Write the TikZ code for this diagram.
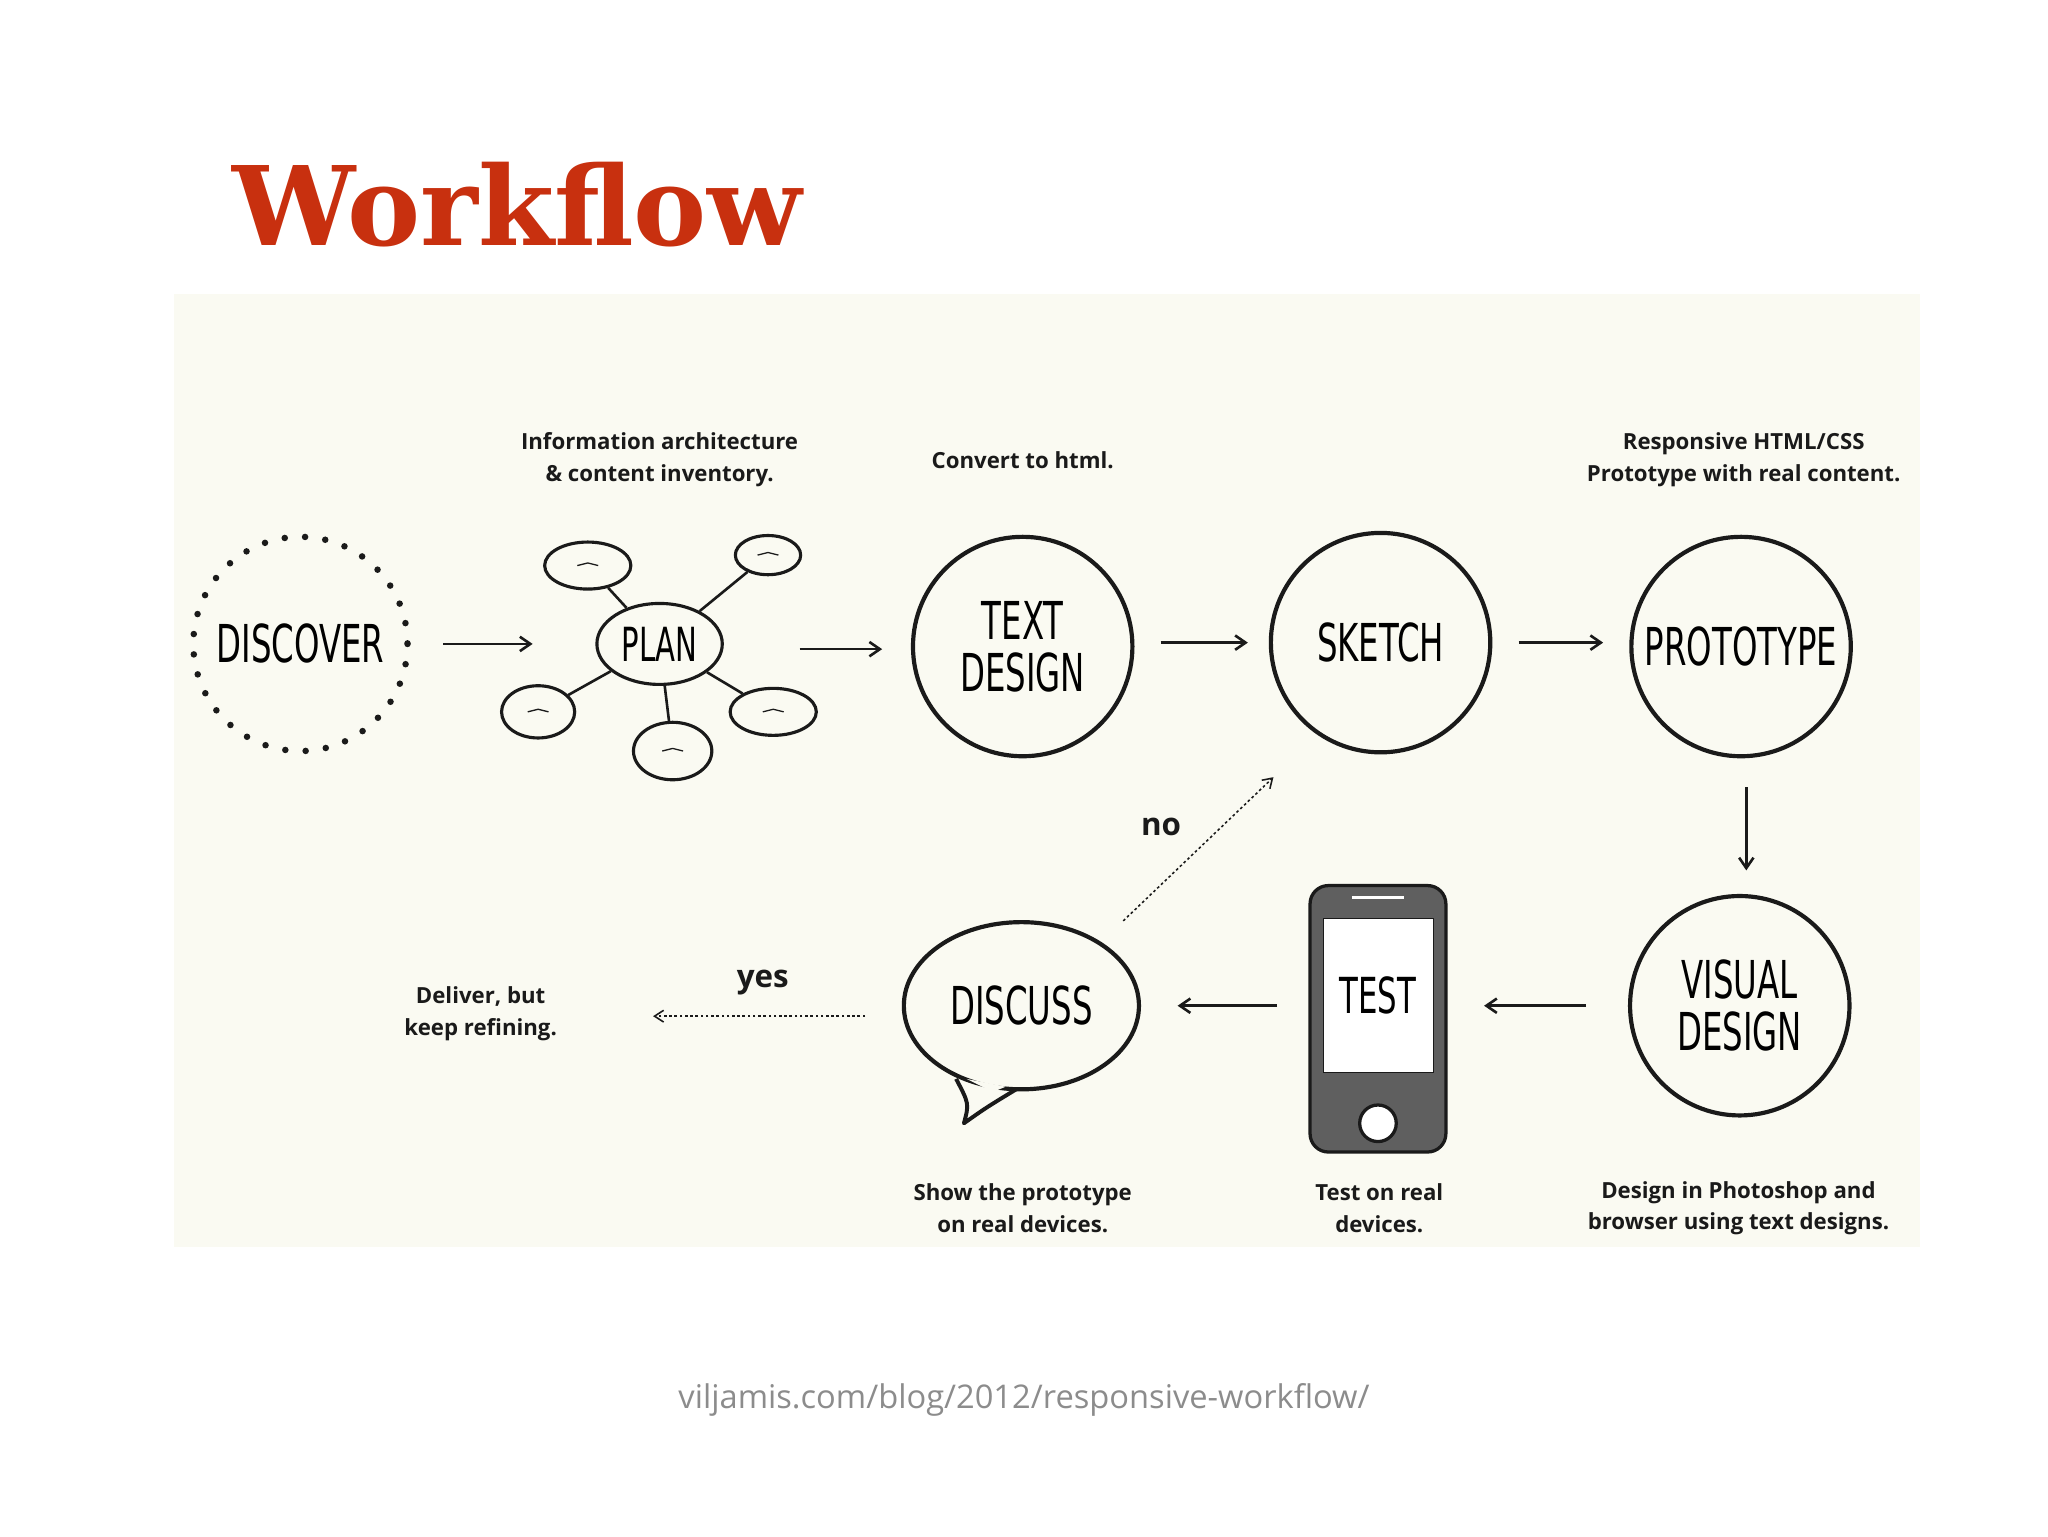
\documentclass[tikz,border=0pt]{standalone}
\usepackage{fontspec}
\setmainfont{Open Sans}
\newfontfamily\titlef{DejaVu Serif}
\newfontfamily\cond[FakeStretch=0.62]{DejaVu Sans}
\usetikzlibrary{arrows.meta,shapes.geometric}
\definecolor{tred}{HTML}{C8300F}
\definecolor{cream}{HTML}{FAFAF2}
\definecolor{ink}{HTML}{1A1A1A}
\tikzset{
 big/.style={circle,draw=ink,line width=3.2pt,minimum size=168pt,inner sep=0pt,align=center,font=\cond\fontsize{40}{40}\selectfont},
 lab/.style={align=center,font=\fontsize{17}{24}\selectfont\bfseries,text=ink},
 arr/.style={-{Straight Barb[length=8pt,width=11pt]},line width=2pt,draw=ink},
 darr/.style={-{Straight Barb[length=7pt,width=9pt]},line width=1.2pt,draw=ink,dash pattern=on 2pt off 2pt},
 sat/.style={ellipse,draw=ink,line width=2.4pt,inner sep=0pt},
}
\begin{document}
\begin{tikzpicture}[x=1pt,y=-1pt]
\useasboundingbox (0,0) rectangle (1568,1176);
\fill[white] (0,0) rectangle (1568,1176);
\fill[cream] (133,225) rectangle (1470,955);
\node[anchor=base west,text=tred,font=\titlef\bfseries\fontsize{84}{84}\selectfont,inner sep=0] (title) at (178,188) {Workflow};
% discover
\node[circle,minimum size=166pt,inner sep=0,font=\cond\fontsize{40}{40}\selectfont] (discover) at (230,493) {DISCOVER};
\draw[ink,line width=5pt,line cap=round,dash pattern=on 0pt off 15.6pt] (230,493) circle (82);
% plan
\node[sat,minimum width=96pt,minimum height=62pt,font=\cond\fontsize{36}{36}\selectfont] (plan) at (505,493) {PLAN};
\node[sat,minimum width=66pt,minimum height=36pt] (s1) at (450,433) {};
\node[sat,minimum width=50pt,minimum height=30pt] (s2) at (588,425) {};
\node[sat,minimum width=56pt,minimum height=40pt] (s3) at (412,545) {};
\node[sat,minimum width=66pt,minimum height=36pt] (s4) at (592,545) {};
\node[sat,minimum width=60pt,minimum height=44pt] (s5) at (515,575) {};
\foreach \s in {s1,s2,s3,s4,s5}{\draw[ink,line width=2pt] (plan) -- (\s);}
\foreach \s in {s1,s2,s3,s4,s5}{\draw[ink,line width=1pt] ([xshift=-8pt]\s.center) -- ++(8,-2) -- ++(8,2);}
% circles
\node[big] (text) at (783,495) {TEXT\\DESIGN};
\node[big] (sketch) at (1057,492) {SKETCH};
\node[big] (proto) at (1333,495) {PROTOTYPE};
\node[big] (visual) at (1332,770) {VISUAL\\DESIGN};
% phone
\node[draw=ink,fill=ink!70,line width=2.5pt,rounded corners=14pt,minimum width=104pt,minimum height=204pt,inner sep=0] (test) at (1055,780) {};
\node[fill=white,draw=ink,minimum width=84pt,minimum height=118pt,inner sep=0,font=\cond\fontsize{38}{38}\selectfont] (screen) at (1055,762) {TEST};
\node[circle,fill=white,draw=ink,line width=2.5pt,minimum size=28pt] (btn) at (1055,860) {};
\draw[white,line width=2pt] (1035,687) -- (1075,687);
% discuss
\node[ellipse,draw=ink,line width=3.2pt,minimum width=180pt,minimum height=128pt,inner sep=0,font=\cond\fontsize{40}{40}\selectfont] (discuss) at (782,770) {DISCUSS};
\fill[cream] (740,826) -- (770,832) -- (760,836) -- cycle;
\draw[ink,line width=3pt,line join=round] (732,826) .. controls (742,845) .. (738,860) .. controls (755,848) .. (778,834);
% arrows
\draw[arr] ([xshift=26pt]discover.east) -- ([xshift=-48pt]plan.west);
\draw[arr] ([xshift=58pt,yshift=-4pt]plan.east) -- ([xshift=-22pt,yshift=-2pt]text.west);
\draw[arr] ([xshift=20pt,yshift=3pt]text.east) -- ([xshift=-16pt]sketch.west);
\draw[arr] ([xshift=20pt]sketch.east) -- ([xshift=-20pt,yshift=3pt]proto.west);
\draw[arr] ([xshift=4pt,yshift=-22pt]proto.south) -- ([xshift=5pt,yshift=18pt]visual.north);
\draw[arr] ([xshift=-32pt]visual.west) -- ([xshift=28pt,yshift=10pt]test.east);
\draw[arr] ([xshift=-24pt,yshift=10pt]test.west) -- ([xshift=28pt]discuss.east);
\coordinate (deliver) at (500,778);
\draw[darr] ([xshift=-28pt,yshift=-8pt]discuss.west) -- (deliver);
\draw[darr] (860,705) -- ([xshift=-82pt,yshift=-103pt]sketch.center);
% labels
\node[lab] (l1) at (505,352) {Information architecture\\\& content inventory.};
\node[lab] (l2) at (783,352) {Convert to html.};
\node[lab] (l3) at (1335,352) {Responsive HTML/CSS\\Prototype with real content.};
\node[lab,font=\fontsize{24}{24}\selectfont\bfseries] (no) at (889,633) {no};
\node[lab,font=\fontsize{24}{24}\selectfont\bfseries] (yes) at (584,752) {yes};
\node[lab] (l4) at (368,776) {Deliver, but\\keep refining.};
\node[lab] (l5) at (783,925) {Show the prototype\\on real devices.};
\node[lab] (l6) at (1056,925) {Test on real\\devices.};
\node[lab] (l7) at (1331,925) {Design in Photoshop and\\browser using text designs.};
\node[text=black!45,font=\fontsize{25}{25}\selectfont] (url) at (784,1072) {viljamis.com/blog/2012/responsive-workflow/};
\end{tikzpicture}
\end{document}
